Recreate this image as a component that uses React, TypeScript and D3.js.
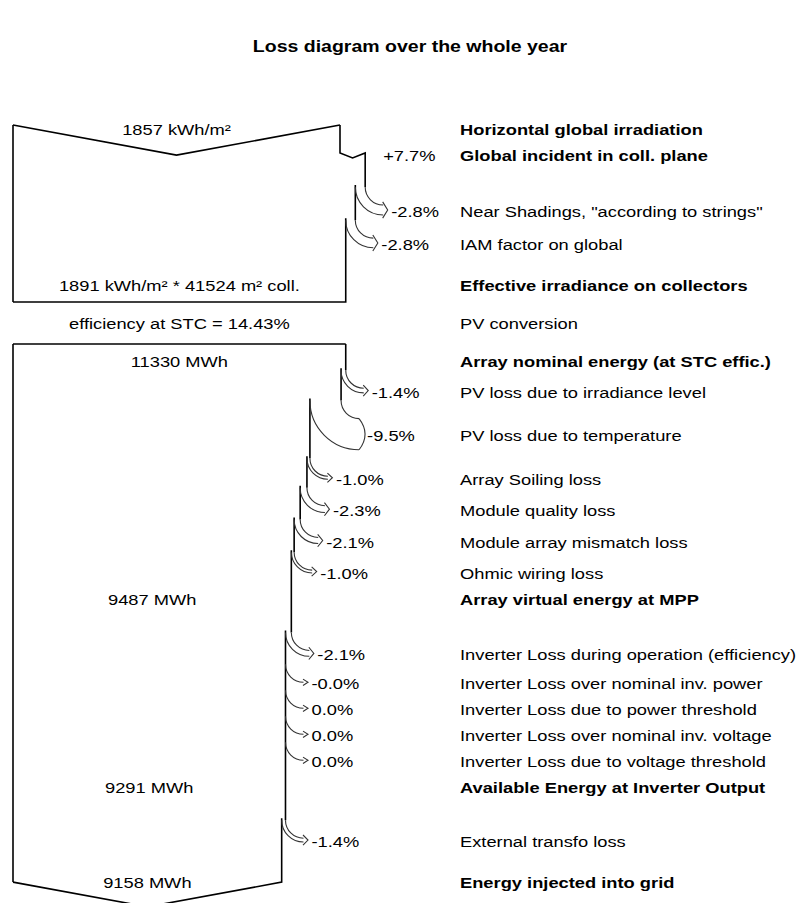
import * as d3 from "d3";

// rows of the loss diagram, top to bottom
const rowNames = [
  "Horizontal global irradiation",
  "Global incident in coll. plane",
  'Near Shadings, "according to strings"',
  "IAM factor on global",
  "Effective irradiance on collectors",
  "PV conversion",
  "Array nominal energy (at STC effic.)",
  "PV loss due to irradiance level",
  "PV loss due to temperature",
  "Array Soiling loss",
  "Module quality loss",
  "Module array mismatch loss",
  "Ohmic wiring loss",
  "Array virtual energy at MPP",
  "Inverter Loss during operation (efficiency)",
  "Inverter Loss over nominal inv. power",
  "Inverter Loss due to power threshold",
  "Inverter Loss over nominal inv. voltage",
  "Inverter Loss due to voltage threshold",
  "Available Energy at Inverter Output",
  "External transfo loss",
  "Energy injected into grid",
];

const rowKinds = [
  "start", "gain", "loss", "loss", "end", "conversion",
  "start", "loss", "loss", "loss", "loss", "loss", "loss", "stage",
  "loss", "loss", "loss", "loss", "loss", "stage", "loss", "end",
];

const rowPercents = [
  "", "+7.7%", "-2.8%", "-2.8%", "", "",
  "", "-1.4%", "-9.5%", "-1.0%", "-2.3%", "-2.1%", "-1.0%", "",
  "-2.1%", "-0.0%", "0.0%", "0.0%", "0.0%", "", "-1.4%", "",
];

const rowValues = [
  "1857 kWh/m²", "", "", "", "1891 kWh/m² * 41524 m² coll.", "efficiency at STC = 14.43%",
  "11330 MWh", "", "", "", "", "", "", "9487 MWh",
  "", "", "", "", "", "9291 MWh", "", "9158 MWh",
];

const sectionStart = [1857, 11330];

const title = "Loss diagram over the whole year";

const LEFT = 13;
const TOP_W = 327;
const R = 18;
const VEE = 0.092;
const FONT = "'Liberation Sans', Arial, sans-serif";
const SX = 1.22;

interface Row {
  name: string;
  kind: string;
  pctLabel: string;
  value: string;
  sec: number;
  wBefore: number;
  wAfter: number;
  band: number;
  y: number;
}

function T({ x, y, children, anchor = "start", bold = false, size = 15 }: any) {
  return (
    <text
      transform={`translate(${x},${y}) scale(${SX},1)`}
      textAnchor={anchor}
      fontFamily={FONT}
      fontSize={size}
      fontWeight={bold ? "bold" : "normal"}
      fill="#000"
    >
      {children}
    </text>
  );
}

export default function App() {
  const rows: Row[] = [];
  let sec = -1;
  let v = 0;
  let w = 0;
  let scale = d3.scaleLinear();
  rowNames.forEach((name, i) => {
    const kind = rowKinds[i];
    const pct = rowPercents[i] ? parseFloat(rowPercents[i]) : 0;
    if (kind === "start") {
      sec += 1;
      v = sectionStart[sec];
      scale = d3.scaleLinear().domain([0, v]).range([0, sec === 0 ? TOP_W : w]);
    }
    const wBefore = scale(v);
    v = v * (1 + pct / 100);
    const wAfter = scale(v);
    w = wAfter;
    rows.push({
      name, kind, pctLabel: rowPercents[i], value: rowValues[i], sec,
      wBefore, wAfter, band: Math.abs(wBefore - wAfter), y: 0,
    });
  });

  const gap = (a: Row, b: Row) => {
    if (a.kind === "start" && b.kind === "gain") return 26;
    if (a.kind === "gain" && b.kind === "loss") return 56;
    if (a.kind === "loss" && b.kind === "loss")
      return 26 + 0.5 * Math.max(a.band, b.band) + (a.band > 0.5 && b.band > 0.5 ? 2 : 0);
    if (a.kind === "loss" && b.kind === "end") return 41;
    if (a.kind === "end" && b.kind === "conversion") return 38;
    if (a.kind === "conversion" && b.kind === "start") return 38;
    if (a.kind === "start" && b.kind === "loss") return 26 + b.band;
    if (a.kind === "loss" && b.kind === "stage") return 26;
    if (a.kind === "stage" && b.kind === "loss") return 50 + b.band;
    return 26;
  };
  let y = 130;
  rows.forEach((r, i) => {
    if (i > 0) y += gap(rows[i - 1], r);
    r.y = y;
  });

  const boxes: JSX.Element[] = [];
  const arrows: JSX.Element[] = [];
  sectionStart.forEach((_, s) => {
    const sr = rows.filter((r) => r.sec === s && r.kind !== "conversion");
    const first = sr[0];
    const w0 = first.wBefore;
    const topY = s === 0 ? first.y - 5 : first.y - 18;
    let d = `M${LEFT + w0},${topY}`;
    let bottomY = topY;
    sr.forEach((r, j) => {
      const xb = LEFT + r.wBefore;
      const xa = LEFT + r.wAfter;
      if (r.kind === "gain") {
        const gy = r.y - 3;
        d += `L${xb},${gy}L${(xb + xa) / 2},${gy + 5}L${xa},${gy}`;
      } else if (r.kind === "loss") {
        const b = r.band;
        const midY = r.y - 2;
        const ys = midY - b / 2 - R;
        if (b > 0.3) d += `L${xb},${ys}M${xa},${ys - 2}`;
        const ex = xb + R;
        const top = ys + R;
        const bot = ys + R + b;
        const mid = (top + bot) / 2;
        const a = b < 15 ? 3.2 : 0;
        const t = b < 15 ? 4.5 : 6;
        const head =
          b < 15
            ? `M${ex - 0.5},${top - a}L${ex + t},${mid}L${ex - 0.5},${bot + a}`
            : `M${ex},${top}Q${ex + 2 * t},${mid} ${ex},${bot}`;
        arrows.push(
          <g key={`a${s}-${j}`} fill="none" stroke="#333" strokeWidth={1.1}>
            <path d={`M${xb},${ys}A${R},${R} 0 0 0 ${ex},${top}`} />
            {b > 0.3 && <path d={`M${xa},${ys}A${R + b},${R + b} 0 0 0 ${ex},${bot}`} />}
            <path d={head} />
          </g>
        );
      } else if (r.kind === "end") {
        if (s === 0) {
          bottomY = r.y + 16;
          d += `L${xb},${bottomY}L${LEFT},${bottomY}`;
        } else {
          bottomY = r.y - 1;
          d += `L${xb},${bottomY}L${LEFT + r.wBefore / 2},${bottomY + VEE * r.wBefore}L${LEFT},${bottomY}`;
        }
      }
    });
    const topEdge =
      s === 0
        ? `M${LEFT},${topY}L${LEFT + w0 / 2},${topY + VEE * w0}L${LEFT + w0},${topY}`
        : `M${LEFT},${topY}L${LEFT + w0},${topY}`;
    boxes.push(
      <g key={`b${s}`} fill="none" stroke="#000" strokeWidth={1.6}>
        <path d={topEdge} />
        <path d={`M${LEFT},${topY}L${LEFT},${bottomY}`} />
        <path d={d} />
      </g>
    );
  });

  const boldKinds = ["start", "gain", "end", "stage"];

  return (
    <div style={{ position: "absolute", left: 0, top: 0 }}>
      <svg width={801} height={903} style={{ display: "block", background: "#fff" }}>
        <T x={410} y={52} anchor="middle" bold size={16}>
          {title}
        </T>
        {boxes}
        {arrows}
        {rows.map((r, i) => (
          <g key={`r${i}`}>
            <T x={460} y={r.y + 5} bold={boldKinds.includes(r.kind)}>
              {r.name}
            </T>
            {r.pctLabel && (
              <T x={r.kind === "gain" ? LEFT + r.wAfter + 18 : LEFT + r.wBefore + R + 8} y={r.y + 5}>
                {r.pctLabel}
              </T>
            )}
            {r.value && (
              <T x={LEFT + r.wAfter / 2} y={r.y + 5} anchor="middle">
                {r.value}
              </T>
            )}
          </g>
        ))}
      </svg>
    </div>
  );
}
